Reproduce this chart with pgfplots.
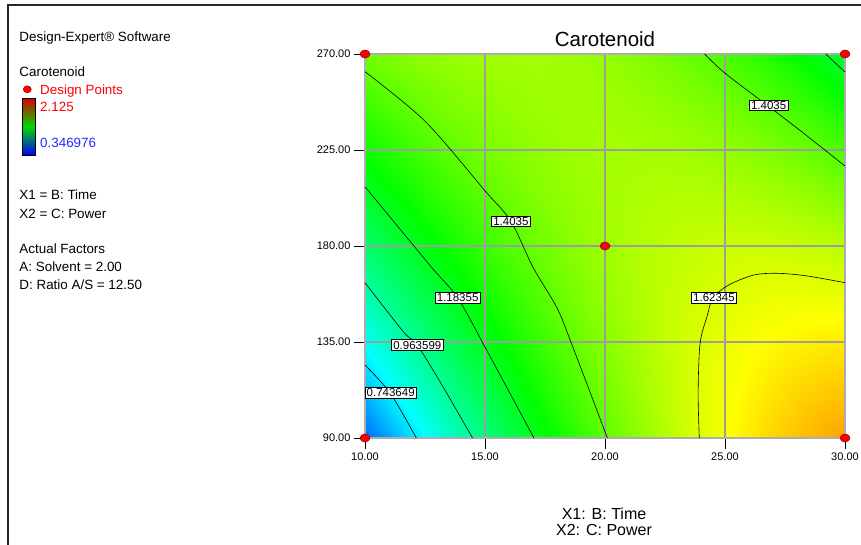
\documentclass[border=0pt]{standalone}
\usepackage{fontspec}
\setmainfont{Liberation Sans}
\usepackage{pgfplots}
\pgfplotsset{compat=1.18}
\pgfplotsset{
  myax/.style={at={(365pt,-438pt)}, anchor=south west, width=480pt, height=384pt,
    scale only axis, xmin=10, xmax=30, ymin=90, ymax=270},
}
\begin{document}
\begin{tikzpicture}[x=1pt,y=1pt]
\useasboundingbox (0,0) rectangle (861,-545);
\draw[line width=1.6pt, black!85] (8,-545) -- (8,-5) -- (861,-5);
% left panel
\begin{scope}[every node/.style={anchor=base west, inner sep=0pt, font=\fontsize{13.4}{15}\selectfont}]
\node at (19.3,-41.5) {Design-Expert® Software};
\node at (19.3,-76.7) {Carotenoid};
\node[text=red] at (40,-94.3) {Design Points};
\node[text=red] at (40,-111.7) {2.125};
\node[text={rgb,255:red,40;green,40;blue,255}] at (40,-147.3) {0.346976};
\node at (19.3,-200) {X1 = B: Time};
\node at (19.3,-218.3) {X2 = C: Power};
\node at (19.3,-254) {Actual Factors};
\node at (19.3,-271.7) {A: Solvent = 2.00};
\node at (19.3,-289.3) {D: Ratio A/S = 12.50};
\end{scope}
\fill[red, draw=red!55!black, line width=0.5pt] (27.3,-89.3) ellipse (4 and 3.5);
\shade[top color=red!85!black, bottom color=blue, middle color=green!85!black] (22.7,-98.3) rectangle (35,-155);
\draw[black, line width=0.8pt] (22.7,-98.3) rectangle (35,-155);
% title and axis labels
\node[anchor=base, inner sep=0pt, font=\fontsize{20.5}{24}\selectfont] at (605,-46.7) {Carotenoid};
\node[anchor=base, inner sep=0pt, font=\fontsize{16}{18}\selectfont] at (604,-519) {X1: B: Time};
\node[anchor=base, inner sep=0pt, font=\fontsize{16}{18}\selectfont] at (604,-535) {X2: C: Power};
% surface
\begin{axis}[myax, hide axis,
  colormap={de}{rgb255(0)=(0,0,255) rgb255(1)=(0,255,255) rgb255(2)=(0,255,0) rgb255(3)=(255,255,0) rgb255(4)=(255,0,0)},
  point meta min=0.346976, point meta max=2.125]
\addplot[surf, shader=interp, mesh/rows=11, mesh/cols=11, mesh/ordering=x varies, point meta=explicit]
 table[x=t, y=p, meta=f] {
t p f
10 90 0.5320
12 90 0.7386
14 90 0.9284
16 90 1.1014
18 90 1.2576
20 90 1.3970
22 90 1.5196
24 90 1.6254
26 90 1.7144
28 90 1.7866
30 90 1.8420
10 108 0.6465
12 108 0.8370
14 108 1.0107
16 108 1.1676
18 108 1.3077
20 108 1.4310
22 108 1.5375
24 108 1.6272
26 108 1.7001
28 108 1.7562
30 108 1.7955
10 126 0.7555
12 126 0.9299
14 126 1.0875
16 126 1.2283
18 126 1.3523
20 126 1.4595
22 126 1.5499
24 126 1.6235
26 126 1.6803
28 126 1.7203
30 126 1.7435
10 144 0.8591
12 144 1.0174
14 144 1.1589
16 144 1.2836
18 144 1.3915
20 144 1.4826
22 144 1.5569
24 144 1.6144
26 144 1.6551
28 144 1.6790
30 144 1.6861
10 162 0.9573
12 162 1.0995
14 162 1.2249
16 162 1.3335
18 162 1.4253
20 162 1.5003
22 162 1.5585
24 162 1.5999
26 162 1.6245
28 162 1.6323
30 162 1.6233
10 180 1.0500
12 180 1.1761
14 180 1.2854
16 180 1.3779
18 180 1.4536
20 180 1.5125
22 180 1.5546
24 180 1.5799
26 180 1.5884
28 180 1.5801
30 180 1.5550
10 198 1.1373
12 198 1.2473
14 198 1.3405
16 198 1.4169
18 198 1.4765
20 198 1.5193
22 198 1.5453
24 198 1.5545
26 198 1.5469
28 198 1.5225
30 198 1.4813
10 216 1.2191
12 216 1.3130
14 216 1.3901
16 216 1.4504
18 216 1.4939
20 216 1.5206
22 216 1.5305
24 216 1.5236
26 216 1.4999
28 216 1.4594
30 216 1.4021
10 234 1.2955
12 234 1.3733
14 234 1.4343
16 234 1.4785
18 234 1.5059
20 234 1.5165
22 234 1.5103
24 234 1.4873
26 234 1.4475
28 234 1.3909
30 234 1.3175
10 252 1.3665
12 252 1.4282
14 252 1.4731
16 252 1.5012
18 252 1.5125
20 252 1.5070
22 252 1.4847
24 252 1.4456
26 252 1.3897
28 252 1.3170
30 252 1.2275
10 270 1.4320
12 270 1.4776
14 270 1.5064
16 270 1.5184
18 270 1.5136
20 270 1.4920
22 270 1.4536
24 270 1.3984
26 270 1.3264
28 270 1.2376
30 270 1.1320
};
\end{axis}
% overlay axis
\begin{axis}[myax, clip=false,
  xtick={10,15,20,25,30}, ytick={90,135,180,225,270},
  xmajorgrids, ymajorgrids, grid style={draw=black!38, line width=1.3pt},
  axis line style={draw=black!32, line width=1.2pt},
  tick pos=left, tick align=outside, major tick length=11pt,
  tick style={black, line width=0.9pt},
  xticklabel style={font=\fontsize{11}{13}\selectfont},
  yticklabel style={font=\fontsize{11}{13}\selectfont},
  /pgf/number format/.cd, fixed, fixed zerofill, precision=2, assume math mode=true]
\addplot[black, line width=0.6pt, smooth] coordinates {(10,124.2) (11.05,111) (12.14,90)};
\addplot[black, line width=0.6pt, smooth] coordinates {(10,162.8) (11.6,139.8) (12.18,133.5) (13.25,114) (14.48,90)};
\addplot[black, line width=0.6pt, smooth] coordinates {(10,207.8) (12.7,171) (13.86,155.7) (15.03,132) (17.04,90)};
\addplot[black, line width=0.6pt, smooth] coordinates {(10,261.7) (12.5,238.5) (15.03,205.5) (16.08,191.6) (17.0,170) (18.0,151) (18.6,134.4) (20.1,90)};
\addplot[black, line width=0.6pt, smooth] coordinates {(24.15,270) (25,261) (26.8,245.6) (28.1,234.4) (30,217.5)};
\addplot[black, line width=0.6pt, smooth] coordinates {(29.2,270) (30,261.5)};
\addplot[black, line width=0.6pt, smooth] coordinates {(23.93,90) (23.88,111) (23.96,134.4) (24.25,146.9) (24.5,155.7) (25.15,161.7) (26.2,166.4) (27.2,167.2) (28.4,166) (30,162.8)};
\addplot[only marks, mark=*, mark size=4pt, mark options={fill=red, draw=red!55!black, line width=0.5pt, xscale=1.25}]
 coordinates {(10,90) (10,270) (20,180) (30,90) (30,270)};
\begin{scope}[every node/.style={draw=black, fill=white, line width=0.7pt, inner xsep=1.6pt, inner ysep=1.3pt, font=\fontsize{11.5}{13}\selectfont}]
\node at (axis cs:26.82,245.9) {1.4035};
\node at (axis cs:16.08,191.6) {1.4035};
\node at (axis cs:13.86,155.7) {1.18355};
\node at (axis cs:12.18,133.5) {0.963599};
\node at (axis cs:11.07,111.1) {0.743649};
\node at (axis cs:24.54,155.7) {1.62345};
\end{scope}
\end{axis}
\end{tikzpicture}
\end{document}
